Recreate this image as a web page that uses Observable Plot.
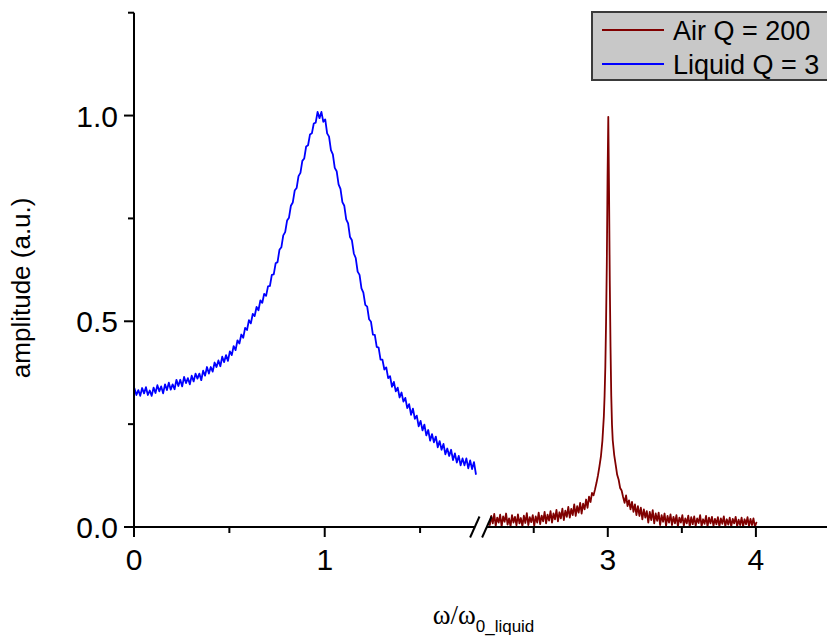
<!DOCTYPE html>
<html><head><meta charset="utf-8">
<script src="https://cdn.jsdelivr.net/npm/d3@7"></script>
<script src="https://cdn.jsdelivr.net/npm/@observablehq/plot@0.6"></script>
<style>
body{margin:0;background:#fff;}
#chart{position:relative;width:827px;height:639px;}
</style></head>
<body><div id="chart"></div>
<script>
// ---- data ----
const liquidX = [
0.00,0.01,0.02,0.03,0.04,0.05,0.06,0.07,0.08,0.09,0.10,0.11,0.12,0.13,0.14,0.15,0.16,0.17,0.18,0.19,
0.20,0.21,0.22,0.23,0.24,0.25,0.26,0.27,0.28,0.29,0.30,0.31,0.32,0.33,0.34,0.35,0.36,0.37,0.38,0.39,
0.40,0.41,0.42,0.43,0.44,0.45,0.46,0.47,0.48,0.49,0.50,0.51,0.52,0.53,0.54,0.55,0.56,0.57,0.58,0.59,
0.60,0.61,0.62,0.63,0.64,0.65,0.66,0.67,0.68,0.69,0.70,0.71,0.72,0.73,0.74,0.75,0.76,0.77,0.78,0.79,
0.80,0.81,0.82,0.83,0.84,0.85,0.86,0.87,0.88,0.89,0.90,0.91,0.92,0.93,0.94,0.95,0.96,0.97,0.98,0.99,
1.00,1.01,1.02,1.03,1.04,1.05,1.06,1.07,1.08,1.09,1.10,1.11,1.12,1.13,1.14,1.15,1.16,1.17,1.18,1.19,
1.20,1.21,1.22,1.23,1.24,1.25,1.26,1.27,1.28,1.29,1.30,1.31,1.32,1.33,1.34,1.35,1.36,1.37,1.38,1.39,
1.40,1.41,1.42,1.43,1.44,1.45,1.46,1.47,1.48,1.49,1.50,1.51,1.52,1.53,1.54,1.55,1.56,1.57,1.58,1.59,
1.60,1.61,1.62,1.63,1.64,1.65,1.66,1.67,1.68,1.69,1.70,1.71,1.72,1.73,1.74,1.75,1.76,1.77,1.78,1.79];
const liquidY = [
0.338,0.322,0.334,0.320,0.339,0.326,0.341,0.322,0.333,0.320,0.340,0.327,0.346,0.331,0.343,0.326,0.348,0.334,0.352,0.335,
0.348,0.336,0.359,0.344,0.359,0.343,0.366,0.351,0.363,0.348,0.369,0.355,0.374,0.362,0.374,0.358,0.381,0.369,0.390,0.374,
0.390,0.379,0.401,0.390,0.406,0.392,0.415,0.402,0.419,0.405,0.428,0.419,0.441,0.431,0.455,0.447,0.469,0.461,0.485,0.480,
0.504,0.496,0.519,0.514,0.536,0.528,0.552,0.546,0.568,0.563,0.586,0.587,0.614,0.615,0.642,0.645,0.675,0.681,0.710,0.718,
0.746,0.753,0.782,0.790,0.819,0.825,0.854,0.862,0.891,0.897,0.926,0.929,0.955,0.958,0.982,0.984,1.010,0.995,1.010,0.986,
0.992,0.958,0.950,0.917,0.907,0.874,0.866,0.834,0.823,0.791,0.782,0.749,0.739,0.706,0.698,0.666,0.655,0.622,0.614,0.581,
0.571,0.541,0.537,0.506,0.500,0.469,0.468,0.439,0.437,0.408,0.408,0.384,0.389,0.363,0.368,0.342,0.354,0.331,0.340,0.316,
0.328,0.306,0.315,0.290,0.300,0.274,0.289,0.264,0.272,0.246,0.259,0.236,0.250,0.224,0.237,0.211,0.227,0.207,0.221,0.195,
0.210,0.189,0.203,0.178,0.192,0.174,0.189,0.164,0.180,0.158,0.174,0.151,0.168,0.151,0.168,0.144,0.163,0.142,0.159,0.130];

const airX = [
2.20,2.21,2.22,2.23,2.24,2.25,2.26,2.27,2.28,2.29,2.30,2.31,2.32,2.33,2.34,2.35,2.36,2.37,2.38,2.39,
2.40,2.41,2.42,2.43,2.44,2.45,2.46,2.47,2.48,2.49,2.50,2.51,2.52,2.53,2.54,2.55,2.56,2.57,2.58,2.59,
2.60,2.61,2.62,2.63,2.64,2.65,2.66,2.67,2.68,2.69,2.70,2.71,2.72,2.73,2.74,2.75,2.76,2.77,2.78,2.79,
2.80,2.81,2.82,2.83,2.84,2.85,2.86,2.87,2.88,2.89,2.90,2.91,2.92,2.93,2.94,2.95,2.96,2.97,2.975,2.98,
2.985,2.99,2.995,3.00,3.005,3.01,3.015,3.02,3.025,3.03,3.04,3.05,3.06,3.07,3.08,3.09,
3.10,3.11,3.12,3.13,3.14,3.15,3.16,3.17,3.18,3.19,3.20,3.21,3.22,3.23,3.24,3.25,3.26,3.27,3.28,3.29,
3.30,3.31,3.32,3.33,3.34,3.35,3.36,3.37,3.38,3.39,3.40,3.41,3.42,3.43,3.44,3.45,3.46,3.47,3.48,3.49,
3.50,3.51,3.52,3.53,3.54,3.55,3.56,3.57,3.58,3.59,3.60,3.61,3.62,3.63,3.64,3.65,3.66,3.67,3.68,3.69,
3.70,3.71,3.72,3.73,3.74,3.75,3.76,3.77,3.78,3.79,3.80,3.81,3.82,3.83,3.84,3.85,3.86,3.87,3.88,3.89,
3.90,3.91,3.92,3.93,3.94,3.95,3.96,3.97,3.98,3.99,4.00];
const airY = [
0.006,0.028,0.010,0.033,0.004,0.024,0.012,0.031,0.002,0.027,0.014,0.034,0.007,0.022,0.003,0.030,0.012,0.026,0.005,0.032,
0.010,0.023,0.003,0.029,0.011,0.035,0.006,0.025,0.013,0.030,0.004,0.027,0.012,0.036,0.008,0.029,0.015,0.038,0.010,0.031,
0.017,0.040,0.012,0.034,0.020,0.043,0.015,0.037,0.022,0.046,0.018,0.041,0.026,0.050,0.024,0.045,0.030,0.056,0.028,0.052,
0.036,0.060,0.034,0.058,0.044,0.068,0.048,0.075,0.062,0.084,0.078,0.092,0.108,0.126,0.148,0.172,0.210,0.270,0.320,0.390,
0.500,0.640,0.850,0.998,0.820,0.600,0.440,0.320,0.250,0.212,0.176,0.152,0.128,0.116,0.096,0.090,
0.074,0.060,0.078,0.052,0.066,0.044,0.062,0.038,0.056,0.030,0.052,0.028,0.048,0.020,0.044,0.024,0.040,0.012,0.038,0.018,
0.042,0.010,0.034,0.016,0.036,0.006,0.030,0.014,0.034,0.004,0.028,0.012,0.032,0.006,0.026,0.010,0.030,0.003,0.024,0.012,
0.030,0.004,0.022,0.010,0.029,0.002,0.025,0.008,0.027,0.004,0.022,0.011,0.030,0.003,0.020,0.009,0.028,0.002,0.024,0.010,
0.026,0.004,0.021,0.008,0.025,0.002,0.022,0.009,0.027,0.003,0.020,0.007,0.024,0.002,0.021,0.010,0.026,0.003,0.019,0.006,
0.024,0.002,0.020,0.008,0.025,0.003,0.021,0.006,0.022,0.002,0.012];

const seriesNames = ["Air Q = 200", "Liquid Q = 3"];
const seriesColors = ["#800000", "#0000ff"];
const xMajorTicks = [0, 1, 3, 4];
const xMinorTicks = [0.5, 1.5, 2.5, 3.5];
const yMajorTicks = [0, 0.5, 1.0];
const yMinorTicks = [0.25, 0.75, 1.25];
const xBreak = [1.8, 2.2];
const xDomainEnd = 4.48;
const yDomainEnd = 1.25;
const xLabelMain = "ω/ω";
const xLabelSub = "0_liquid";
const yLabel = "amplitude (a.u.)";

const liquid = liquidX.map((x, i) => ({x, y: liquidY[i]}));
const air = airX.map((x, i) => ({x, y: airY[i]}));

const SANS = "'Liberation Sans', Arial, sans-serif";
const SERIF = "'Liberation Serif', 'Times New Roman', serif";

function decorations(index, scales, values, dims) {
  const {x, y} = scales;
  const g = d3.create("svg:g").attr("fill", "none").attr("stroke", "#000").attr("stroke-width", 2);
  const x0 = x(0), y0 = y(0);
  g.append("line").attr("x1", x0).attr("x2", x0).attr("y1", y0 + 1).attr("y2", y(yDomainEnd));
  const bl = x(xBreak[0]) - 2.5, br = x(xBreak[1]) - 2.5;
  g.append("line").attr("x1", x0).attr("x2", bl).attr("y1", y0).attr("y2", y0);
  g.append("line").attr("x1", br).attr("x2", x(xDomainEnd)).attr("y1", y0).attr("y2", y0);
  for (const c of [bl, br]) {
    g.append("line").attr("x1", c - 4.7).attr("y1", y0 + 10.5).attr("x2", c + 4.7).attr("y2", y0 - 10.5);
  }
  for (const t of xMajorTicks) g.append("line").attr("x1", x(t)).attr("x2", x(t)).attr("y1", y0).attr("y2", y0 + 10);
  for (const t of xMinorTicks) g.append("line").attr("x1", x(t)).attr("x2", x(t)).attr("y1", y0).attr("y2", y0 + 6);
  for (const t of yMajorTicks) g.append("line").attr("x1", x0 - 10).attr("x2", x0).attr("y1", y(t)).attr("y2", y(t));
  for (const t of yMinorTicks) g.append("line").attr("x1", x0 - 6).attr("x2", x0).attr("y1", y(t)).attr("y2", y(t));

  const tg = d3.create("svg:g").attr("fill", "#000").attr("stroke", "none").attr("font-family", SANS).attr("font-size", 30);
  for (const t of xMajorTicks) tg.append("text").attr("x", x(t)).attr("y", y0 + 43).attr("text-anchor", "middle").text(String(t));
  for (const t of yMajorTicks) tg.append("text").attr("x", x0 - 16).attr("y", y(t) + 11).attr("text-anchor", "end").text(t.toFixed(1));
  const xl = tg.append("text").attr("x", (x0 + x(xDomainEnd)) / 2 + 3).attr("y", y0 + 97).attr("text-anchor", "middle");
  xl.append("tspan").attr("font-family", SERIF).attr("font-size", 27).text(xLabelMain);
  xl.append("tspan").attr("font-size", 17).attr("dy", 8).text(xLabelSub);
  tg.append("text").attr("transform", `translate(30,${(y0 + y(yDomainEnd)) / 2 + 18}) rotate(-90)`)
    .attr("text-anchor", "middle").attr("font-size", 26).text(yLabel);

  const lx = dims.width - 235, ly = 12;
  const lg = d3.create("svg:g");
  lg.append("rect").attr("x", lx).attr("y", ly).attr("width", 250).attr("height", 68)
    .attr("fill", "#c8c8c8").attr("stroke", "#3a3a3a").attr("stroke-width", 2);
  seriesNames.forEach((name, i) => {
    const cy = ly + 18 + i * 34;
    lg.append("line").attr("x1", lx + 10).attr("x2", lx + 72).attr("y1", cy).attr("y2", cy)
      .attr("stroke", seriesColors[i]).attr("stroke-width", 2);
    lg.append("text").attr("x", lx + 81).attr("y", cy + 9.5).attr("text-anchor", "start")
      .attr("font-family", SANS).attr("font-size", 27).attr("fill", "#000").text(name);
  });
  const root = d3.create("svg:g");
  root.append(() => g.node());
  root.append(() => tg.node());
  root.append(() => lg.node());
  return root.node();
}

const chart = Plot.plot({
  width: 827,
  height: 639,
  marginTop: 12, marginBottom: 112, marginLeft: 134, marginRight: 0,
  style: {background: "#fff", overflow: "visible"},
  x: {type: "linear", domain: [0, xBreak[0], xBreak[1], xDomainEnd], range: [134, 477.3, 489.3, 827], axis: null},
  y: {type: "linear", domain: [0, yDomainEnd], range: [527, 12.7], axis: null},
  marks: [
    Plot.line(liquid, {x: "x", y: "y", stroke: seriesColors[1], strokeWidth: 1.8}),
    Plot.line(air, {x: "x", y: "y", stroke: seriesColors[0], strokeWidth: 1.8}),
    decorations
  ]
});
document.getElementById("chart").appendChild(chart);
</script>
</body></html>
